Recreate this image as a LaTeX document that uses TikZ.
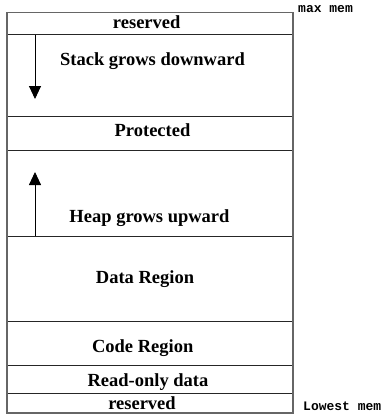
\documentclass[tikz,border=0pt]{standalone}
\usepackage{fontspec}
\setmainfont{Liberation Serif}
\newfontfamily\monob{Liberation Mono}
\usetikzlibrary{arrows.meta}
\tikzset{
  lbl/.style={font=\fontsize{18.5}{20}\selectfont\bfseries, anchor=base, inner sep=0pt},
  memlbl/.style={font=\fontsize{13}{14}\selectfont\monob\bfseries, anchor=base west, inner sep=0pt},
  outer/.style={draw=black!60, line width=1.4pt},
  divider/.style={draw=black!85, line width=0.9pt},
  growarrow/.style={draw=black, line width=0.9pt, -{Triangle[width=12pt,length=13pt]}}
}
\begin{document}
\begin{tikzpicture}[x=1pt,y=-1pt]
\useasboundingbox (0,0) rectangle (387,418);
% dividers
\foreach \yy in {34.5,116,150.5,236,321.5,365.5,393.3}
  \draw[divider] (7,\yy) -- (293,\yy);
% outer box
\draw[outer] (7,12.7) rectangle (293,413);
% labels
\node[lbl] (res1) at (146.7,28.3) {reserved};
\node[lbl] (stack) at (152.5,65) {Stack grows downward};
\node[lbl] (prot) at (152.5,136) {Protected};
\node[lbl] (heap) at (149.5,222) {Heap grows upward};
\node[lbl] (data) at (145,283.5) {Data Region};
\node[lbl] (code) at (142.7,352.7) {Code Region};
\node[lbl] (rod) at (148,386) {Read-only data};
\node[lbl] (res2) at (142,409.3) {reserved};
\node[memlbl] (maxm) at (298,12.7) {max mem};
\node[memlbl] (lowm) at (303,410) {Lowest mem};
% arrows
\coordinate (s0) at (35,34.5);
\coordinate (s1) at (35,99);
\coordinate (h0) at (35,236);
\coordinate (h1) at (35,172);
\draw[growarrow] (s0) -- (s1);
\draw[growarrow] (h0) -- (h1);
\end{tikzpicture}
\end{document}
